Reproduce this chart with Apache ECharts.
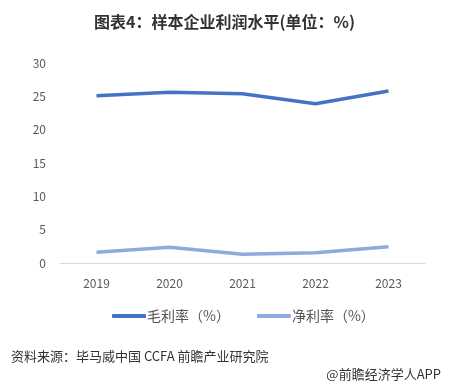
<!DOCTYPE html>
<html><head><meta charset="utf-8">
<script src="https://cdn.jsdelivr.net/npm/echarts@6/dist/echarts.min.js"></script>
<style>html,body{margin:0;padding:0;background:#fff}#c{width:449px;height:386px}</style>
</head><body><div id="c"></div>
<script>
const years = ['2019','2020','2021','2022','2023'];
const grossMargin = [25.1, 25.6, 25.4, 23.9, 25.8];
const netMargin = [1.6, 2.35, 1.3, 1.55, 2.45];
const seriesNames = ['毛利率（%）','净利率（%）'];
const chart = echarts.init(document.getElementById('c'));
const font = '"Microsoft YaHei","Noto Sans CJK SC",sans-serif';
chart.setOption({
  animation:false,
  title:[{text:'图表4：样本企业利润水平(单位：%)',left:'center',top:9,textStyle:{fontSize:16,fontWeight:'bold',color:'#333',fontFamily:font}},
    {text:'资料来源：毕马威中国 CCFA 前瞻产业研究院',left:6,top:345,textStyle:{fontSize:13,fontWeight:'normal',color:'#333',fontFamily:font}},
    {text:'@前瞻经济学人APP',right:3,top:363,textStyle:{fontSize:13,fontWeight:'normal',color:'#333',fontFamily:font}}],
  legend:{top:304,left:107,itemWidth:34,itemHeight:4,itemGap:27,icon:'roundRect',
    textStyle:{fontSize:14,color:'#555',fontFamily:font,padding:[0,0,0,-4]},data:seriesNames},
  grid:{left:60,right:24,top:63,bottom:123},
  xAxis:{type:'category',data:years,boundaryGap:true,
    axisLine:{lineStyle:{color:'#d9d9d9'}},axisTick:{show:false},
    axisLabel:{color:'#595959',fontSize:12,margin:14,fontFamily:font}},
  yAxis:{type:'value',min:0,max:30,interval:5,
    axisLine:{show:false},axisTick:{show:false},splitLine:{show:false},
    axisLabel:{color:'#595959',fontSize:12,margin:14,fontFamily:font}},
  series:[
    {name:seriesNames[0],type:'line',data:grossMargin,symbol:'none',lineStyle:{width:3.5,color:'#4472C4'},itemStyle:{color:'#4472C4'}},
    {name:seriesNames[1],type:'line',data:netMargin,symbol:'none',lineStyle:{width:3.5,color:'#8FAADC'},itemStyle:{color:'#8FAADC'}}
  ]
});
</script></body></html>
